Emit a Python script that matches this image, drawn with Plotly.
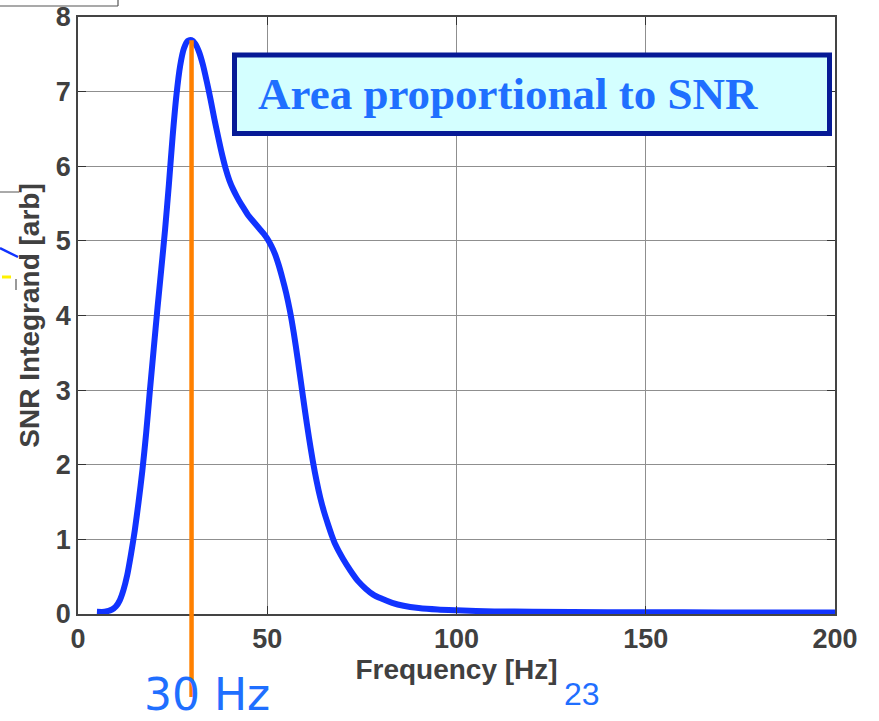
import numpy as np
import plotly.graph_objects as go

# ---- data ----
freq_hz = [5, 7, 9, 10, 11, 12, 13, 14, 15, 16, 17, 18, 19, 20, 21, 22, 23, 24, 25, 26,
           27, 28, 29, 30, 31, 32, 33, 34, 35, 36, 37, 38, 39, 40, 41, 42, 43, 44, 45, 46,
           47, 48, 49, 50, 51, 52, 53, 54, 55, 56, 57, 58, 59, 60, 61, 62, 63, 64, 65, 66,
           67, 68, 70, 72, 74, 76, 78, 80, 83, 86, 90, 95, 100, 110, 120, 140, 160, 180, 200]
snr_integrand = [0.03, 0.03, 0.06, 0.10, 0.18, 0.32, 0.52, 0.80, 1.12, 1.50, 1.92, 2.42, 3.00, 3.55,
                 4.10, 4.62, 5.15, 5.75, 6.40, 6.95, 7.35, 7.58, 7.68, 7.69, 7.64, 7.53, 7.36, 7.14,
                 6.90, 6.64, 6.40, 6.17, 5.97, 5.81, 5.69, 5.59, 5.50, 5.42, 5.34, 5.28, 5.22, 5.16,
                 5.10, 5.03, 4.94, 4.83, 4.68, 4.50, 4.30, 4.06, 3.77, 3.43, 3.07, 2.71, 2.37, 2.06,
                 1.79, 1.56, 1.37, 1.21, 1.06, 0.93, 0.74, 0.58, 0.44, 0.34, 0.26, 0.21, 0.15, 0.11,
                 0.08, 0.06, 0.05, 0.035, 0.03, 0.025, 0.022, 0.02, 0.02]
marker_freq = 30
x_ticks = [0, 50, 100, 150, 200]
y_ticks = [0, 1, 2, 3, 4, 5, 6, 7, 8]
x_range = [0, 200]
y_range = [0, 8]
box_text = "Area proportional to SNR"
marker_label = "30 Hz"
page_number = "23"

# figure geometry (page body margin is removed so figure pixels == page pixels)
W, H = 879, 721
ML, MT = 78, 17
MR = W - 835
MB = H - 614
PW, PH = W - ML - MR, H - MT - MB


def px(x):
    """page pixel x -> paper x"""
    return (x - ML) / PW


def py(y):
    """page pixel y -> paper y"""
    return (H - MB - y) / PH


fig = go.Figure()
fig.add_trace(go.Scatter(
    x=freq_hz, y=snr_integrand, mode="lines",
    line=dict(color="#1133FF", width=6, shape="spline", smoothing=0.7),
    hoverinfo="skip", showlegend=False,
))

peak_at_marker = float(np.interp(marker_freq, freq_hz, snr_integrand))

shapes = [
    # orange marker line at 30 Hz, running below the axis
    dict(type="line", xref="x", yref="paper", x0=marker_freq, x1=marker_freq,
         y0=py(697), y1=peak_at_marker / y_range[1],
         line=dict(color="#FF8000", width=4.5), layer="above"),
    # text box
    dict(type="rect", xref="paper", yref="paper", x0=px(234.5), x1=px(829.5),
         y0=py(133.5), y1=py(55), fillcolor="#D4FFFF",
         line=dict(color="#061A96", width=5), layer="above"),
    # stray slide decorations at the left edge
    dict(type="line", xref="paper", yref="paper", x0=px(0), x1=px(118), y0=py(6), y1=py(6),
         line=dict(color="#555555", width=1.2)),
    dict(type="line", xref="paper", yref="paper", x0=px(118), x1=px(118), y0=py(0), y1=py(6),
         line=dict(color="#555555", width=1.2)),
    dict(type="line", xref="paper", yref="paper", x0=px(0), x1=px(19), y0=py(192), y1=py(192),
         line=dict(color="#555555", width=1)),
    dict(type="line", xref="paper", yref="paper", x0=px(0), x1=px(18), y0=py(248), y1=py(257),
         line=dict(color="#1133FF", width=2.5)),
    dict(type="line", xref="paper", yref="paper", x0=px(2), x1=px(18), y0=py(277), y1=py(277),
         line=dict(color="#FFF200", width=3, dash="dash")),
    dict(type="line", xref="paper", yref="paper", x0=px(16), x1=px(16), y0=py(279), y1=py(290),
         line=dict(color="#555555", width=1.2)),
]

annotations = [
    dict(text=box_text, xref="paper", yref="paper", x=px(256), y=py(94),
         xanchor="left", yanchor="middle", showarrow=False,
         font=dict(family="Liberation Serif", size=45, color="#1F6FFF", weight="bold")),
    dict(text=marker_label, xref="paper", yref="paper", x=px(207), y=py(721),
         xanchor="center", yanchor="bottom", showarrow=False, borderpad=0,
         font=dict(family="DejaVu Sans", size=44, color="#1F6FFF")),
    dict(text=page_number, xref="paper", yref="paper", x=px(582), y=py(694),
         xanchor="center", yanchor="middle", showarrow=False,
         font=dict(family="Liberation Sans", size=32, color="#1F6FFF")),
]

axis_common = dict(
    showgrid=True, gridcolor="#8f8f8f", gridwidth=1,
    showline=True, linecolor="#444444", linewidth=1.5, mirror="ticks",
    ticks="inside", ticklen=8, tickwidth=1.2, tickcolor="#333333",
    zeroline=False, automargin=False, ticklabeloverflow="allow",
    tickfont=dict(family="Liberation Sans", size=27, color="#404040", weight="bold"),
)

fig.update_layout(
    width=W, height=H,
    margin=dict(l=ML, r=MR, t=MT, b=MB, pad=0),
    paper_bgcolor="white", plot_bgcolor="white",
    xaxis=dict(range=x_range, tickvals=x_ticks, ticktext=[str(v) for v in x_ticks],
               title=dict(text="Frequency [Hz]", standoff=2,
                          font=dict(family="Liberation Sans", size=28, color="#404040", weight="bold")),
               **axis_common),
    yaxis=dict(range=y_range, tickvals=y_ticks, ticktext=[str(v) for v in y_ticks],
               title=dict(text="SNR Integrand [arb]", standoff=8,
                          font=dict(family="Liberation Sans", size=28, color="#404040", weight="bold")),
               **axis_common),
    shapes=shapes,
    annotations=annotations,
)

fig.write_html("out.html", config={"displayModeBar": False},
               post_script="document.body.style.margin='0';")
